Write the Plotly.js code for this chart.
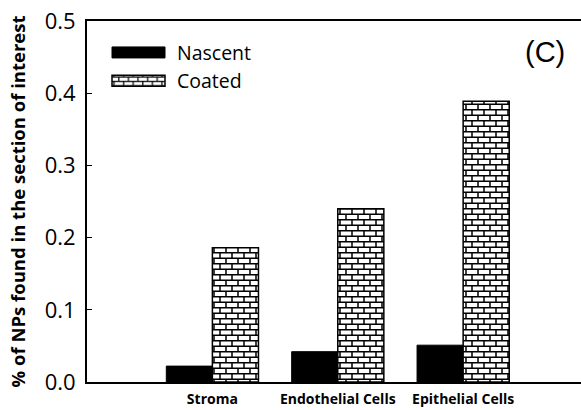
<!DOCTYPE html>
<html>
<head>
<meta charset="utf-8">
<script src="https://cdn.plot.ly/plotly-3.0.1.min.js"></script>
<style>html,body{margin:0;padding:0;background:#fff;}#chart{width:581px;height:410px;}</style>
</head>
<body>
<div id="chart"></div>
<script>
const categories = ["Stroma", "Endothelial Cells", "Epithelial Cells"];
const categoryPos = [1, 2, 3];
const nascent = [0.022, 0.042, 0.051];
const coated = [0.186, 0.240, 0.389];
const yTickVals = [0, 0.1, 0.2, 0.3, 0.4, 0.5];
const yTickText = ["0.0", "0.1", "0.2", "0.3", "0.4", "0.5"];

const traces = [
  {
    type: "bar", name: "Nascent", x: categoryPos, y: nascent,
    marker: {color: "#000", line: {color: "#000", width: 1}}
  },
  {
    type: "bar", name: "Coated", x: categoryPos, y: coated,
    marker: {color: "#fff", line: {color: "#000", width: 1.5},
      pattern: {shape: "+", fgcolor: "#000", bgcolor: "#fff", size: 6, solidity: 0.25}}
  }
];

const layout = {
  width: 581, height: 410,
  margin: {l: 87, r: 0, t: 21, b: 28},
  paper_bgcolor: "#fff", plot_bgcolor: "#fff",
  barmode: "group", bargap: 0.265, bargroupgap: 0,
  showlegend: true,
  legend: {x: 0.0405, y: 0.966, xanchor: "left", yanchor: "top",
    font: {family: "Open Sans", size: 19.5, color: "#000"}, bgcolor: "rgba(0,0,0,0)",
    tracegroupgap: 4, itemwidth: 60},
  xaxis: {range: [0, 3.94], tickvals: categoryPos, ticktext: categories,
    showline: true, linecolor: "#000", linewidth: 2, mirror: true,
    ticks: "", showgrid: false, zeroline: false, fixedrange: true, ticklabelstandoff: 3,
    tickfont: {family: "Open Sans", size: 14, color: "#000", weight: "bold"}},
  yaxis: {range: [0, 0.5], tickvals: yTickVals, ticktext: yTickText,
    showline: true, linecolor: "#000", linewidth: 2, mirror: false,
    ticks: "inside", ticklen: 5, tickcolor: "#000", showgrid: false, zeroline: false,
    ticklabelstandoff: 5,
    tickfont: {family: "Open Sans", size: 22, color: "#000"},
    title: {text: "<b>% of NPs found in the section of interest</b>", standoff: 14,
      font: {family: "Open Sans", size: 18.5, color: "#000"}}},
  annotations: [{text: "(C)", xref: "paper", yref: "paper", x: 0.927, y: 0.914,
    xanchor: "center", yanchor: "middle",
    showarrow: false, font: {family: "Liberation Sans", size: 29, color: "#000"}}]
};

function brickify(gd) {
  const NS = "http://www.w3.org/2000/svg";
  gd.querySelectorAll("pattern").forEach(function (p) {
    p.setAttribute("patternUnits", "userSpaceOnUse");
    p.setAttribute("width", "12");
    p.setAttribute("height", "11");
    while (p.firstChild) p.removeChild(p.firstChild);
    const bg = document.createElementNS(NS, "rect");
    bg.setAttribute("width", "12"); bg.setAttribute("height", "11"); bg.setAttribute("fill", "#fff");
    p.appendChild(bg);
    const mortar = document.createElementNS(NS, "path");
    mortar.setAttribute("d", "M0,0.75H12M0,6.25H12M1,0V5.5M7,5.5V11");
    mortar.setAttribute("stroke", "#000");
    mortar.setAttribute("stroke-width", "1.5");
    mortar.setAttribute("fill", "none");
    p.appendChild(mortar);
  });
  // widen legend swatches, placed relative to the legend text
  gd.querySelectorAll(".legend .traces").forEach(function (item) {
    const txt = item.querySelector(".legendtext");
    const path = item.querySelector(".legendpoints path");
    if (!txt || !path) return;
    const tl = txt.getBoundingClientRect().left;
    const m = path.getScreenCTM();
    const x0 = tl - 65 - m.e, x1 = tl - 12 - m.e;
    path.setAttribute("d", "M" + x0 + ",5.5H" + x1 + "V-5.5H" + x0 + "Z");
  });
}

Plotly.newPlot("chart", traces, layout, {displayModeBar: false, staticPlot: true}).then(brickify);
</script>
</body>
</html>
